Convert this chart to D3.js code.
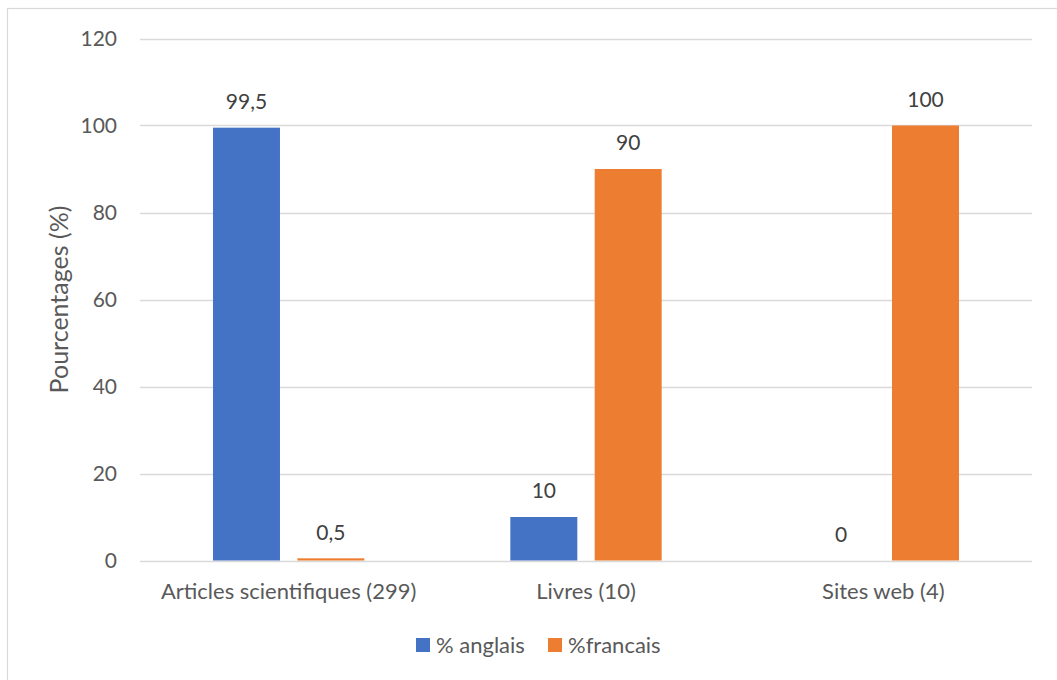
<!DOCTYPE html>
<html><head><meta charset="utf-8">
<script src="https://cdn.jsdelivr.net/npm/d3@7"></script>
<style>
html,body{margin:0;padding:0;background:#fff;}
svg{display:block;font-family:Lato,"Open Sans",sans-serif;}
</style></head>
<body>
<svg id="chart" width="1057" height="680"></svg>
<script>
const categories = ["Articles scientifiques (299)", "Livres (10)", "Sites web (4)"];
const seriesNames = ["% anglais", "%francais"];
const anglais = [99.5, 10, 0];
const francais = [0.5, 90, 100];
const labelsAnglais = ["99,5", "10", "0"];
const labelsFrancais = ["0,5", "90", "100"];
const yTicks = [0, 20, 40, 60, 80, 100, 120];
const colors = ["#4472C4", "#ED7D31"];

const svg = d3.select("#chart");
const W = 1057, H = 680;
const m = {left: 140, right: 1032, top: 38.5, bottom: 560.5};

// outer border (chart area frame, cropped at right/bottom)
svg.append("rect").attr("x", 7.5).attr("y", 8.5).attr("width", W + 10).attr("height", H + 10)
  .attr("fill", "none").attr("stroke", "#d9d9d9").attr("stroke-width", 1.2);

const x0 = d3.scaleBand().domain(categories).range([m.left, m.right]).padding(0);
const inner = 73;
const x1 = d3.scaleBand().domain(seriesNames).range([inner, x0.bandwidth() - inner]).paddingInner(0.206).paddingOuter(0);
const y = d3.scaleLinear().domain([0, 120]).range([m.bottom, m.top]);

// gridlines
svg.append("g").selectAll("line").data(yTicks).join("line")
  .attr("x1", m.left).attr("x2", m.right)
  .attr("y1", d => Math.round(y(d)) + 0.5).attr("y2", d => Math.round(y(d)) + 0.5)
  .attr("stroke", "#d9d9d9").attr("stroke-width", 1.3);

// y tick labels
svg.append("g").selectAll("text").data(yTicks).join("text")
  .attr("x", 117).attr("y", d => y(d)).attr("dy", "0.35em")
  .attr("text-anchor", "end").attr("font-size", 21).attr("fill", "#595959")
  .text(d => d);

// y title
svg.append("text").attr("transform", `translate(68,${(m.top + m.bottom) / 2}) rotate(-90)`)
  .attr("text-anchor", "middle").attr("font-size", 25).attr("fill", "#595959")
  .text("Pourcentages (%)");

const rows = categories.map((c, i) => ({
  cat: c,
  vals: [
    {s: seriesNames[0], v: anglais[i], lab: labelsAnglais[i], col: colors[0]},
    {s: seriesNames[1], v: francais[i], lab: labelsFrancais[i], col: colors[1]}
  ]
}));

const g = svg.append("g").selectAll("g").data(rows).join("g")
  .attr("transform", d => `translate(${x0(d.cat)},0)`);

g.selectAll("rect").data(d => d.vals).join("rect")
  .attr("x", d => x1(d.s)).attr("width", x1.bandwidth())
  .attr("y", d => y(d.v)).attr("height", d => y(0) - y(d.v))
  .attr("fill", d => d.col);

g.selectAll("text").data(d => d.vals).join("text")
  .attr("x", d => x1(d.s) + x1.bandwidth() / 2)
  .attr("y", d => y(d.v) - 26).attr("dy", "0.35em")
  .attr("text-anchor", "middle").attr("font-size", 21).attr("fill", "#404040")
  .text(d => d.lab);

// x labels
svg.append("g").selectAll("text").data(categories).join("text")
  .attr("x", d => x0(d) + x0.bandwidth() / 2).attr("y", 591).attr("dy", "0.35em")
  .attr("text-anchor", "middle").attr("font-size", 22).attr("fill", "#595959")
  .text(d => d);

// legend
const legX = [416, 548];
const leg = svg.append("g").selectAll("g").data(seriesNames).join("g")
  .attr("transform", (d, i) => `translate(${legX[i]},638)`);
leg.append("rect").attr("width", 14).attr("height", 14).attr("fill", (d, i) => colors[i]);
leg.append("text").attr("x", 20).attr("y", 7).attr("dy", "0.35em")
  .attr("font-size", 22).attr("fill", "#595959").text(d => d);
</script>
</body></html>
